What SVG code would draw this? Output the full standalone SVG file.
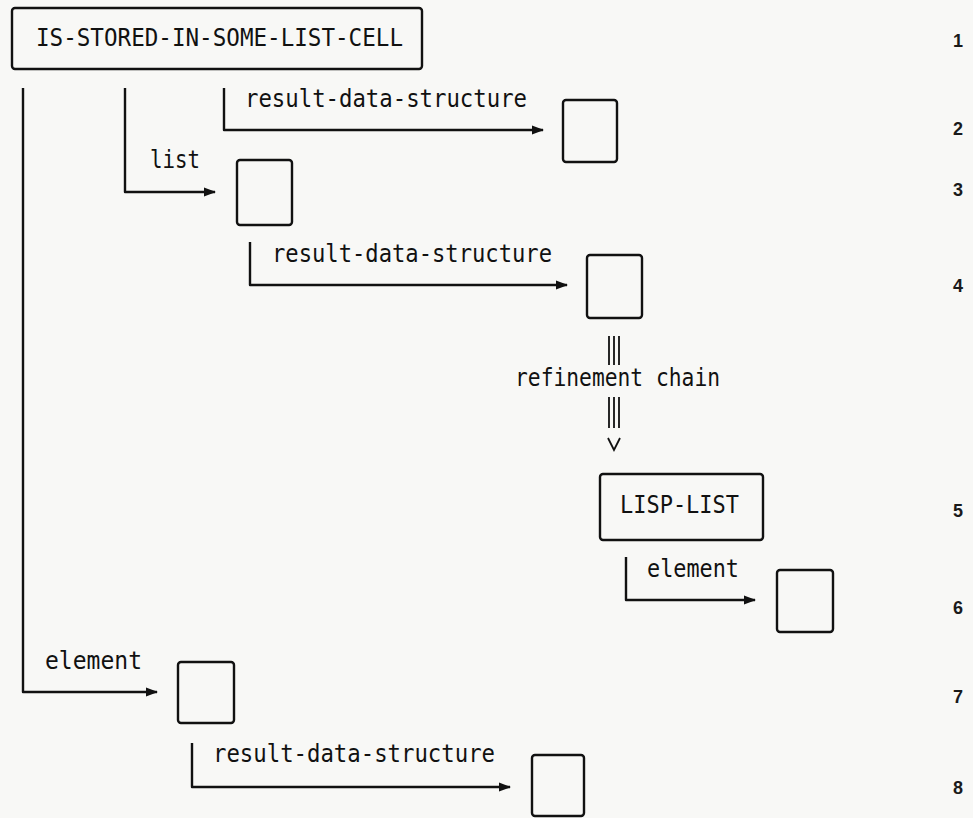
<svg xmlns="http://www.w3.org/2000/svg" width="973" height="818" viewBox="0 0 973 818">
<style>
.bg{fill:#f8f8f6}
.box{fill:none;stroke:#111;stroke-width:2.4;stroke-linejoin:round}
.lbl{font-family:"DejaVu Sans Mono","Liberation Mono",monospace;font-size:24px;fill:#111}
.num{font-family:"Liberation Sans","DejaVu Sans",sans-serif;font-weight:bold;font-size:18px;fill:#1a1a1a;text-anchor:middle}
.conn{fill:none;stroke:#111;stroke-width:2.4;stroke-linejoin:round}
.ref{fill:none;stroke:#111;stroke-width:1.8}
</style>
<defs>
<marker id="ah" markerUnits="userSpaceOnUse" markerWidth="12" markerHeight="10" refX="11" refY="5" orient="auto">
<path d="M0,0.5 L12,5 L0,9.5 Z" fill="#111"/>
</marker>
</defs>
<rect class="bg" x="0" y="0" width="973" height="818"/>

<g id="n1">
<rect class="box" x="12" y="8" width="410" height="61" rx="3"/>
<text class="lbl" x="36" y="46" textLength="367" lengthAdjust="spacingAndGlyphs">IS-STORED-IN-SOME-LIST-CELL</text>
</g>
<g id="n2"><rect class="box" x="563" y="100" width="54" height="62" rx="3"/></g>
<g id="n3"><rect class="box" x="237" y="160" width="55" height="65" rx="3"/></g>
<g id="n4"><rect class="box" x="587" y="255" width="55" height="63" rx="3"/></g>
<g id="n5">
<rect class="box" x="600" y="474" width="163" height="66" rx="3"/>
<text class="lbl" x="620" y="513" textLength="119" lengthAdjust="spacingAndGlyphs">LISP-LIST</text>
</g>
<g id="n6"><rect class="box" x="777" y="570" width="56" height="62" rx="3"/></g>
<g id="n7"><rect class="box" x="178" y="662" width="56" height="61" rx="3"/></g>
<g id="n8"><rect class="box" x="532" y="755" width="52" height="61" rx="3"/></g>

<g id="connectors">
<path class="conn" d="M23 88 V692 H157" marker-end="url(#ah)"/>
<path class="conn" d="M125 88 V192 H215" marker-end="url(#ah)"/>
<path class="conn" d="M224 88 V130 H543" marker-end="url(#ah)"/>
<path class="conn" d="M250 242 V285 H567" marker-end="url(#ah)"/>
<path class="conn" d="M626 557 V600 H755" marker-end="url(#ah)"/>
<path class="conn" d="M192 743 V787 H510" marker-end="url(#ah)"/>
<g id="refinement">
<path class="ref" d="M609 336 V365 M614 336 V365 M619 336 V365"/>
<path class="ref" d="M609 397 V428 M614 397 V428 M619 397 V428"/>
<path class="ref" d="M608 438 L614 450 L620 438"/>
</g>
</g>

<g id="labels">
<text class="lbl" x="245" y="107" textLength="282" lengthAdjust="spacingAndGlyphs">result-data-structure</text>
<text class="lbl" x="150" y="168" textLength="50" lengthAdjust="spacingAndGlyphs">list</text>
<text class="lbl" x="272" y="262" textLength="280" lengthAdjust="spacingAndGlyphs">result-data-structure</text>
<text class="lbl" x="515" y="386" textLength="205" lengthAdjust="spacingAndGlyphs">refinement chain</text>
<text class="lbl" x="647" y="577" textLength="92" lengthAdjust="spacingAndGlyphs">element</text>
<text class="lbl" x="45" y="669" textLength="97" lengthAdjust="spacingAndGlyphs">element</text>
<text class="lbl" x="213" y="762" textLength="282" lengthAdjust="spacingAndGlyphs">result-data-structure</text>
</g>

<g id="linenumbers">
<text class="num" x="958" y="47">1</text>
<text class="num" x="958" y="135">2</text>
<text class="num" x="958" y="196">3</text>
<text class="num" x="958" y="292">4</text>
<text class="num" x="958" y="517">5</text>
<text class="num" x="958" y="614">6</text>
<text class="num" x="958" y="703">7</text>
<text class="num" x="958" y="794">8</text>
</g>
</svg>
